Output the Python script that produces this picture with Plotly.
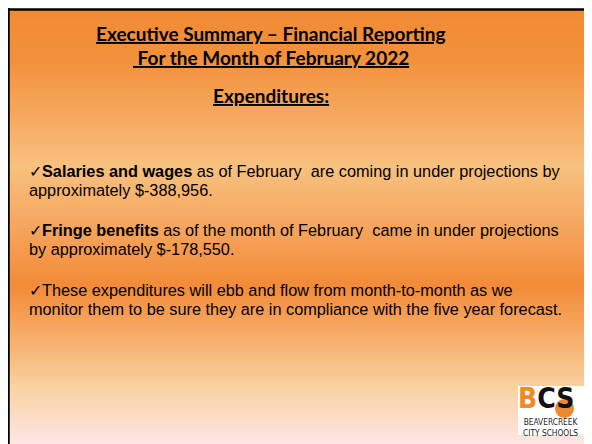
import plotly.graph_objects as go
import numpy as np

W, H = 592, 444
OFF = 8  # browser body margin: figure starts at page (8, 8)

title_lines = ["Executive Summary – Financial Reporting",
               " For the Month of February 2022",
               "Expenditures:"]
bullets = [
    ("Salaries and wages", " as of February  are coming in under projections by",
     "approximately $-388,956."),
    ("Fringe benefits", " as of the month of February  came in under projections",
     "by approximately $-178,550."),
    ("", "These expenditures will ebb and flow from month-to-month as we",
     "monitor them to be sure they are in compliance with the five year forecast."),
]
logo_letters = ["B", "C", "S"]
logo_text = ["BEAVERCREEK", "CITY SCHOOLS"]

# background gradient (style)
grad_stops = [(9, "#F28A33"), (60, "#F3913B"), (120, "#F6AA62"), (165, "#F8C17F"),
              (220, "#F6A862"), (285, "#F38B38"), (340, "#F6AF6E"), (385, "#F9D19E"),
              (420, "#FCDDCB"), (444, "#FDE6E3")]
y0b = 9
ys = np.arange(y0b, H + 1)
zrows = [[float(v)] for v in ys[:-1]]
cs = [[(y - y0b) / (H - 1 - y0b), c] for y, c in grad_stops]
cs[-1][0] = 1.0

fig = go.Figure()
fig.add_trace(go.Heatmap(x=[8, W], y=list(ys), z=zrows, colorscale=cs,
                         zmin=y0b, zmax=H - 1, showscale=False, hoverinfo="skip"))

shapes = [
    dict(type="line", x0=7, x1=W, y0=9.5, y1=9.5, line=dict(color="black", width=2.5)),
    dict(type="line", x0=8.5, x1=8.5, y0=8, y1=H, line=dict(color="black", width=2.5)),
    # logo box
    dict(type="rect", x0=518, x1=584, y0=386, y1=435, fillcolor="white", line=dict(width=0)),
    dict(type="circle", x0=555, x1=574, y0=399, y1=418, fillcolor="#F0892B", line=dict(width=0)),
]

ann = []
cx = 271
title_y = [33, 57, 95]
for t, y in zip(title_lines, title_y):
    ann.append(dict(x=cx, y=y, text="<b><u>" + t + "</u></b>", showarrow=False,
                    xanchor="center", yanchor="middle",
                    font=dict(family="Lato", size=19, color="black")))

line_y = [[171, 190], [230, 249], [290, 309]]
for (b, rest, l2), (ya, yb) in zip(bullets, line_y):
    t1 = "✓" + ("<b>" + b + "</b>" if b else "") + rest
    ann.append(dict(x=27, y=ya, text=t1, showarrow=False, xanchor="left", yanchor="middle",
                    font=dict(family="Liberation Sans", size=16.3, color="black")))
    ann.append(dict(x=27, y=yb, text=l2, showarrow=False, xanchor="left", yanchor="middle",
                    font=dict(family="Liberation Sans", size=16.3, color="black")))

logo_cols = ["#F0892B", "#111111", "#111111"]
letters_txt = "<b>" + "".join(
    "<span style='color:%s'>%s</span>" % (c, L) for L, c in zip(logo_letters, logo_cols)) + "</b>"
ann.append(dict(x=546, y=416, text=letters_txt, showarrow=False,
                xanchor="center", yanchor="bottom", borderpad=0,
                font=dict(family="DejaVu Sans Condensed", size=28, color="#111111")))
ann.append(dict(x=551, y=416, text="<br>".join(logo_text), showarrow=False,
                xanchor="center", yanchor="top", borderpad=0,
                font=dict(family="DejaVu Sans Condensed", size=8.3, color="#222222")))

fig.update_layout(
    width=W - OFF, height=H - OFF, margin=dict(l=0, r=0, t=0, b=0, pad=0),
    paper_bgcolor="white", plot_bgcolor="white",
    xaxis=dict(range=[OFF, W], visible=False, fixedrange=True),
    yaxis=dict(range=[H, OFF], visible=False, fixedrange=True),
    shapes=shapes, annotations=ann, showlegend=False,
)
fig.write_html("out.html", config=dict(displayModeBar=False))
